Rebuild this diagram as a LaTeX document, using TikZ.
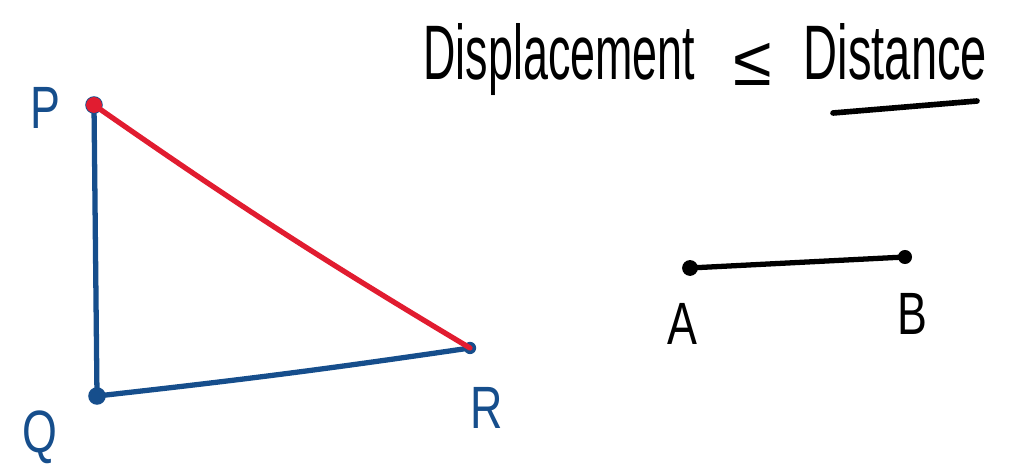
\documentclass[tikz,border=0pt]{standalone}
\usepackage{fontspec}
\setmainfont{Liberation Sans}
\usetikzlibrary{positioning}
\definecolor{pen}{RGB}{22,78,140}
\definecolor{redpen}{RGB}{225,28,48}
\tikzset{
  dot/.style={circle,fill,inner sep=0pt,minimum size=10pt},
  stroke/.style={line width=3pt,line cap=round,line join=round},
  lbl/.style={font=\fontsize{34}{36}\selectfont,xscale=0.75,transform shape},
  head/.style={font=\fontsize{44}{48}\selectfont,xscale=0.58,transform shape,anchor=base west}
}
\begin{document}
\begin{tikzpicture}[x=0.02cm,y=-0.02cm]
    \useasboundingbox (0,0) rectangle (1018,475);
    % triangle
    \node[dot,pen] (P) at (94,105) {};
    \node[dot,pen] (Q) at (97,396) {};
    \node[dot,pen,minimum size=7pt] (R) at (470,348) {};
    \draw[stroke,pen] (P.center) -- (Q.center);
    \draw[stroke,pen] (Q.center) to[bend right=1] (R.center);
    \draw[stroke,redpen] (P.center) to[bend right=2] (R.center);
    \node[dot,redpen,minimum size=9pt] at (P) {};
    \node[lbl,pen] (Plbl) at (45,108) {P};
    \node[lbl,pen] (Qlbl) at (40,437) {Q};
    \node[lbl,pen] (Rlbl) at (487,408) {R};
    % segment AB
    \node[dot,minimum size=9pt] (A) at (690,268) {};
    \node[dot,minimum size=8pt] (B) at (905,257) {};
    \draw[stroke] (A.center) -- (B.center);
    \node[lbl] (Albl) at (682,324) {A};
    \node[lbl] (Blbl) at (912,314) {B};
    % heading
    \node[head] (disp) at (420,80) {Displacement};
    \node[font=\fontsize{40}{44}\selectfont,anchor=base west] (le) at (727,86) {≤};
    \node[head,xscale=1.05] (dist) at (800,80) {Distance};
    \coordinate (u1) at (833,113);
    \coordinate (u2) at (977,101);
    \draw[stroke,line width=3.2pt] (u1) -- (u2);
\end{tikzpicture}
\end{document}
